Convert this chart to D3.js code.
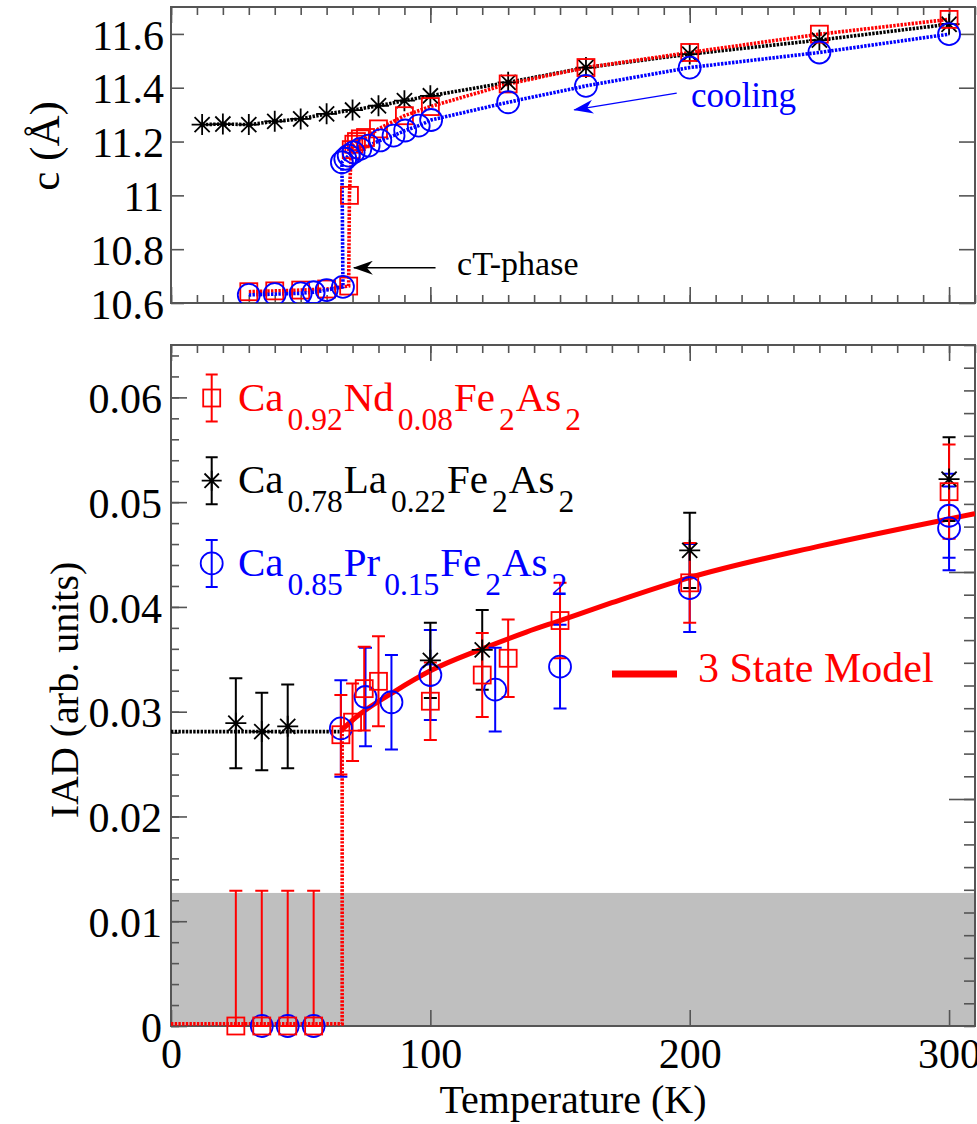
<!DOCTYPE html>
<html>
<head>
<meta charset="utf-8">
<script src="https://cdn.jsdelivr.net/npm/d3@7"></script>
<style>
  html, body { margin: 0; padding: 0; background: #fff; }
  svg { display: block; font-family: "Liberation Serif", "Times New Roman", serif; }
</style>
</head>
<body>
<svg id="fig" width="977" height="1124"></svg>
<script>
// ---------- lattice parameter c (Å) vs temperature ----------
const cT_La = [12, 20, 30, 40, 50, 60, 70, 80, 90, 100, 130, 160, 200, 250, 300];
const c_La  = [11.263, 11.265, 11.263, 11.275, 11.284, 11.303, 11.317, 11.333, 11.352, 11.370, 11.420, 11.475, 11.525, 11.577, 11.636];

const cT_Nd = [30, 40, 50, 60, 68.5, 68.8, 69.5, 70.5, 71.5, 73, 75, 80, 90, 100, 130, 160, 200, 250, 300];
const c_Nd  = [10.642, 10.645, 10.648, 10.652, 10.663, 11.0, 11.17, 11.19, 11.20, 11.21, 11.215, 11.247, 11.296, 11.330, 11.414, 11.475, 11.531, 11.599, 11.654];

const cT_Pr = [30, 40, 50, 55, 60, 66.3, 65.9, 67.2, 68.5, 70.4, 73, 76.2, 80.7, 85.8, 90.3, 95.5, 100.3, 130, 160, 200, 250, 300];
const c_Pr  = [10.630, 10.633, 10.636, 10.640, 10.648, 10.660, 11.123, 11.136, 11.148, 11.160, 11.173, 11.185, 11.204, 11.222, 11.241, 11.259, 11.280, 11.346, 11.407, 11.475, 11.531, 11.599];

// ---------- IAD vs temperature ----------
const iT_La   = [25, 35, 45, 100, 120, 200, 300];
const iad_La  = [0.0289, 0.0281, 0.0286, 0.0349, 0.0359, 0.0454, 0.0522];
const err_La  = [0.0043, 0.0037, 0.0040, 0.0036, 0.0038, 0.0036, 0.0040];

const iT_Nd   = [25, 35, 45, 55, 65.5, 70, 74.5, 80, 100, 120, 130, 150, 200, 300];
const iad_Nd  = [0, 0, 0, 0, 0.0278, 0.0290, 0.0322, 0.0329, 0.0310, 0.0335, 0.0351, 0.0387, 0.0423, 0.0510];
const err_Nd  = [0.0129, 0.0129, 0.0129, 0.0129, 0.0038, 0.0037, 0.0040, 0.0043, 0.0037, 0.0040, 0.0037, 0.0036, 0.0038, 0.0045];

const iT_Pr   = [35, 45, 55, 65.5, 75, 85, 100, 125, 150, 200, 300, 300];
const iad_Pr  = [0, 0, 0, 0.0284, 0.0314, 0.0309, 0.0335, 0.0321, 0.0343, 0.0418, 0.0487, 0.0475];
const err_Pr  = [0, 0, 0, 0.0046, 0.0047, 0.0045, 0.0043, 0.0040, 0.0040, 0.0042, 0.0040, 0.0040];

// three-state model curve
const modelT   = [65.5, 73, 86, 100, 120, 137, 150, 170, 200, 250, 300, 310];
const modelIAD = [0.0282, 0.0298, 0.0319, 0.0339, 0.0360, 0.0376, 0.0387, 0.0404, 0.0428, 0.0458, 0.0484, 0.0489];

// low-temperature guide lines
const guideLaT = [0, 65];        const guideLaV = [0.0281, 0.0281];
const guideNdT = [0, 66, 66];    const guideNdV = [0.0002, 0.0002, 0.0282];

// resolution limit (shaded band)
const bandTop = 0.0127;

// tick values
const xMajor = [0, 100, 200, 300];
const cMajor = [10.6, 10.8, 11.0, 11.2, 11.4, 11.6];
const cLabels = ["10.6", "10.8", "11", "11.2", "11.4", "11.6"];
const iMajor = [0, 0.01, 0.02, 0.03, 0.04, 0.05, 0.06];
const iLabels = ["0", "0.01", "0.02", "0.03", "0.04", "0.05", "0.06"];

// ---------- layout ----------
const RED = "#ff0000", BLUE = "#0000ff", BLACK = "#000000";
const svg = d3.select("#fig");
const L = 171, R = 975;
const top1 = 7, bot1 = 303;
const top2 = 345, bot2 = 1026;

const x  = d3.scaleLinear().domain([0, 310]).range([L, R]);
const yC = d3.scaleLinear().domain([10.6, 11.7]).range([bot1, top1]);
const yI = d3.scaleLinear().domain([0, 0.065]).range([bot2, top2]);
const yIR = d3.scaleLinear().domain([0, 30]).range([bot2, top2]); // right-hand scale of the lower frame

const zip = (a, b) => a.map((v, i) => [v, b[i]]);

svg.append("defs").call(d => {
  d.append("clipPath").attr("id", "clip1").append("rect")
    .attr("x", L).attr("y", top1).attr("width", R - L).attr("height", bot1 - top1);
  d.append("clipPath").attr("id", "clip2").append("rect")
    .attr("x", L).attr("y", top2).attr("width", R - L).attr("height", bot2 - top2 + 4);
  [["arrK", BLACK], ["arrB", BLUE]].forEach(([id, col]) => {
    d.append("marker").attr("id", id).attr("viewBox", "0 0 20 14").attr("refX", 19).attr("refY", 7)
      .attr("markerWidth", 20).attr("markerHeight", 14).attr("markerUnits", "userSpaceOnUse").attr("orient", "auto")
      .append("path").attr("d", "M0,0 L20,7 L0,14 L6,7 Z").attr("fill", col);
  });
});

// ---------- marker helpers ----------
function square(g, cx, cy, color, s = 17) {
  g.append("rect").attr("x", cx - s / 2).attr("y", cy - s / 2).attr("width", s).attr("height", s)
    .attr("fill", "none").attr("stroke", color).attr("stroke-width", 1.8);
}
function circle(g, cx, cy, color, r = 11) {
  g.append("circle").attr("cx", cx).attr("cy", cy).attr("r", r)
    .attr("fill", "none").attr("stroke", color).attr("stroke-width", 1.8);
}
function star(g, cx, cy, color, s = 10.5) {
  const d = s * 0.72;
  g.append("path")
    .attr("d", `M${cx - s},${cy}H${cx + s}M${cx},${cy - s}V${cy + s}` +
               `M${cx - d},${cy - d}L${cx + d},${cy + d}M${cx - d},${cy + d}L${cx + d},${cy - d}`)
    .attr("stroke", color).attr("stroke-width", 1.8).attr("fill", "none");
}
function errbar(g, cx, y0, y1, color, cap = 13) {
  g.append("path")
    .attr("d", `M${cx},${y0}V${y1}M${cx - cap / 2},${y0}H${cx + cap / 2}M${cx - cap / 2},${y1}H${cx + cap / 2}`)
    .attr("stroke", color).attr("stroke-width", 2).attr("fill", "none");
}
const markerFn = { sq: square, ci: circle, st: star };

// ---------- frame + ticks ----------
function styleAxis(g, size) {
  g.select(".domain").remove();
  g.selectAll("line").attr("stroke", "#555").attr("stroke-width", 1.6);
  g.selectAll("text").attr("font-family", "Liberation Serif").attr("font-size", size).attr("fill", "#000");
}
function minorRange(a, b, step) { return d3.range(a, b + step / 2, step).map(v => +v.toFixed(6)); }

// upper panel
const p1 = svg.append("g");
p1.append("g").attr("transform", `translate(0,${bot1})`)
  .call(d3.axisBottom(x).tickValues(minorRange(0, 310, 10)).tickSize(-8).tickFormat("")).call(g => styleAxis(g, 0));
p1.append("g").attr("transform", `translate(0,${bot1})`)
  .call(d3.axisBottom(x).tickValues(xMajor).tickSize(-16).tickFormat("")).call(g => styleAxis(g, 0));
p1.append("g").attr("transform", `translate(0,${top1})`)
  .call(d3.axisTop(x).tickValues(minorRange(0, 310, 10)).tickSize(-8).tickFormat("")).call(g => styleAxis(g, 0));
p1.append("g").attr("transform", `translate(0,${top1})`)
  .call(d3.axisTop(x).tickValues(xMajor).tickSize(-16).tickFormat("")).call(g => styleAxis(g, 0));
p1.append("g").attr("transform", `translate(${L},0)`)
  .call(d3.axisLeft(yC).tickValues(cMajor).tickSize(-13).tickPadding(7).tickFormat((d, i) => cLabels[i]))
  .call(g => styleAxis(g, 42))
  .call(g => g.selectAll("text").attr("dy", "0.36em"));
p1.append("g").attr("transform", `translate(${R},0)`)
  .call(d3.axisRight(yC).tickValues(cMajor).tickSize(-16).tickFormat("")).call(g => styleAxis(g, 0));
p1.append("rect").attr("x", L).attr("y", top1).attr("width", R - L).attr("height", bot1 - top1)
  .attr("fill", "none").attr("stroke", "#555").attr("stroke-width", 2);

svg.append("text").attr("transform", `translate(59,146) rotate(-90)`)
  .attr("text-anchor", "middle").attr("font-size", 43).text("c (Å)");

// upper data
const d1 = p1.append("g").attr("clip-path", "url(#clip1)");
const upperSeries = [
  { t: cT_La, v: c_La, color: BLACK, m: "st" },
  { t: cT_Nd, v: c_Nd, color: RED,   m: "sq" },
  { t: cT_Pr, v: c_Pr, color: BLUE,  m: "ci" }
];
upperSeries.forEach(s => {
  d1.append("path").datum(zip(s.t, s.v)).attr("d", d3.line().x(d => x(d[0])).y(d => yC(d[1])))
    .attr("fill", "none").attr("stroke", s.color).attr("stroke-width", 3.6).attr("stroke-dasharray", "2.4,1.3");
});
upperSeries.forEach(s => {
  zip(s.t, s.v).forEach(([t, v]) => markerFn[s.m](d1, x(t), yC(v), s.color));
});

// annotations (upper)
svg.append("line").attr("x1", x(102)).attr("y1", yC(10.731)).attr("x2", x(70.5)).attr("y2", yC(10.731))
  .attr("stroke", BLACK).attr("stroke-width", 1.3).attr("marker-end", "url(#arrK)");
svg.append("text").attr("x", x(110.3)).attr("y", yC(10.704))
  .attr("font-size", 34).attr("fill", BLACK).text("cT-phase");
svg.append("line").attr("x1", x(195)).attr("y1", yC(11.38)).attr("x2", x(155.5)).attr("y2", yC(11.318))
  .attr("stroke", BLUE).attr("stroke-width", 1.3).attr("marker-end", "url(#arrB)");
svg.append("text").attr("x", x(200.5)).attr("y", yC(11.328)).attr("font-size", 35).attr("fill", BLUE).text("cooling");

// lower panel
const p2 = svg.append("g");
p2.append("rect").attr("x", L).attr("y", yI(bandTop)).attr("width", R - L).attr("height", bot2 - yI(bandTop))
  .attr("fill", "#bfbfbf");
p2.append("g").attr("transform", `translate(0,${bot2})`)
  .call(d3.axisBottom(x).tickValues(xMajor).tickSize(-16).tickPadding(12).tickFormat(d3.format("d")))
  .call(g => styleAxis(g, 42))
  .call(g => g.selectAll("text").attr("dy", "0.71em"));
p2.append("g").attr("transform", `translate(0,${top2})`)
  .call(d3.axisTop(x).tickValues(minorRange(0, 310, 10)).tickSize(-8).tickFormat("")).call(g => styleAxis(g, 0));
p2.append("g").attr("transform", `translate(0,${top2})`)
  .call(d3.axisTop(x).tickValues(xMajor).tickSize(-16).tickFormat("")).call(g => styleAxis(g, 0));
p2.append("g").attr("transform", `translate(${L},0)`)
  .call(d3.axisLeft(yI).tickValues(minorRange(0, 0.064, 0.002)).tickSize(-8).tickFormat("")).call(g => styleAxis(g, 0));
p2.append("g").attr("transform", `translate(${L},0)`)
  .call(d3.axisLeft(yI).tickValues(iMajor).tickSize(-16).tickPadding(9).tickFormat((d, i) => iLabels[i]))
  .call(g => styleAxis(g, 42))
  .call(g => g.selectAll("text").attr("dy", "0.36em"));
p2.append("g").attr("transform", `translate(${R},0)`)
  .call(d3.axisRight(yIR).tickValues(d3.range(0, 31)).tickSize(-11).tickFormat("")).call(g => styleAxis(g, 0));
p2.append("g").attr("transform", `translate(${R},0)`)
  .call(d3.axisRight(yIR).tickValues([10, 20]).tickSize(-26).tickFormat("")).call(g => styleAxis(g, 0));
p2.append("rect").attr("x", L).attr("y", top2).attr("width", R - L).attr("height", bot2 - top2)
  .attr("fill", "none").attr("stroke", "#555").attr("stroke-width", 2);

svg.append("text").attr("transform", `translate(78,690) rotate(-90)`)
  .attr("text-anchor", "middle").attr("font-size", 40).text("IAD (arb. units)");
svg.append("text").attr("x", (L + R) / 2).attr("y", 1113).attr("text-anchor", "middle")
  .attr("font-size", 40).text("Temperature (K)");

// lower data
const d2 = p2.append("g").attr("clip-path", "url(#clip2)");
const iLine = d3.line().x(d => x(d[0])).y(d => yI(d[1]));
d2.append("path").datum(zip(guideLaT, guideLaV)).attr("d", iLine)
  .attr("fill", "none").attr("stroke", BLACK).attr("stroke-width", 3.6).attr("stroke-dasharray", "2.4,1.3");
d2.append("path").datum(zip(guideNdT, guideNdV)).attr("d", iLine)
  .attr("fill", "none").attr("stroke", RED).attr("stroke-width", 3.6).attr("stroke-dasharray", "2.4,1.3");
d2.append("path").datum(zip(modelT, modelIAD))
  .attr("d", d3.line().x(d => x(d[0])).y(d => yI(d[1])).curve(d3.curveMonotoneX))
  .attr("fill", "none").attr("stroke", RED).attr("stroke-width", 5);

const m2 = p2.append("g");
const lowerSeries = [
  { t: iT_Pr, v: iad_Pr, e: err_Pr, color: BLUE,  m: "ci" },
  { t: iT_La, v: iad_La, e: err_La, color: BLACK, m: "st" },
  { t: iT_Nd, v: iad_Nd, e: err_Nd, color: RED,   m: "sq" }
];
lowerSeries.forEach(s => {
  s.t.forEach((t, i) => {
    if (s.e[i] > 0) errbar(m2, x(t), yI(s.v[i] + s.e[i]), yI(Math.max(s.v[i] - s.e[i], 0)), s.color);
  });
});
lowerSeries.forEach(s => {
  s.t.forEach((t, i) => markerFn[s.m](m2, x(t), yI(s.v[i]), s.color));
});

// legend
const legend = [
  { color: RED,   m: "sq", parts: [["Ca", 0], ["0.92", 1], ["Nd", 0], ["0.08", 1], ["Fe", 0], ["2", 1], ["As", 0], ["2", 1]] },
  { color: BLACK, m: "st", parts: [["Ca", 0], ["0.78", 1], ["La", 0], ["0.22", 1], ["Fe", 0], ["2", 1], ["As", 0], ["2", 1]] },
  { color: BLUE,  m: "ci", parts: [["Ca", 0], ["0.85", 1], ["Pr", 0], ["0.15", 1], ["Fe", 0], ["2", 1], ["As", 0], ["2", 1]] }
];
legend.forEach((it, k) => {
  const base = 410.7 + k * 82.7;
  const cy = base - 12.7;
  const g = svg.append("g");
  errbar(g, 211.7, cy - 23.5, cy + 23.5, it.color, 12);
  markerFn[it.m](g, 211.7, cy, it.color, it.m === "sq" ? 17 : (it.m === "ci" ? 11 : 10));
  const t = g.append("text").attr("x", 238).attr("y", base).attr("fill", it.color);
  let sub = false;
  it.parts.forEach(([s, isSub]) => {
    const ts = t.append("tspan").text(s).attr("font-size", isSub ? 31.5 : 41);
    if (isSub && !sub) ts.attr("dy", 19).attr("dx", 4);
    if (!isSub && sub) ts.attr("dy", -19).attr("dx", 1);
    sub = !!isSub;
  });
});

svg.append("line").attr("x1", 612).attr("x2", 677).attr("y1", 674).attr("y2", 674)
  .attr("stroke", RED).attr("stroke-width", 7);
svg.append("text").attr("x", 698).attr("y", 682).attr("font-size", 42).attr("fill", RED).text("3 State Model");
</script>
</body>
</html>
